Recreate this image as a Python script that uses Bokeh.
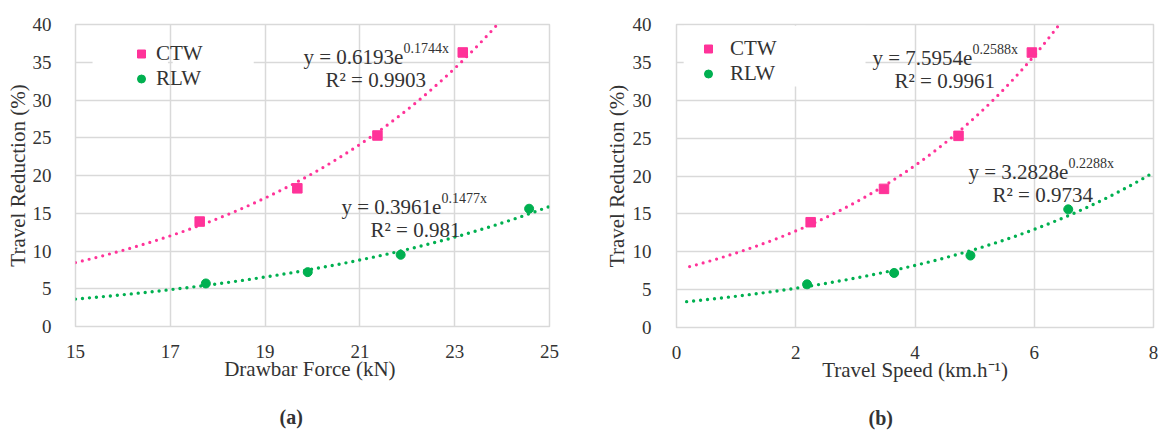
import numpy as np
from bokeh.plotting import figure
from bokeh.layouts import row
from bokeh.models import (FixedTicker, Label, Legend, LegendItem, BoxAnnotation, Range1d, Title)
from bokeh.embed import file_html
from bokeh.resources import INLINE

# ---------------- data ----------------
series_names = ["CTW", "RLW"]
ctw_reduction = [13.9, 18.3, 25.3, 36.3]
rlw_reduction = [5.7, 7.2, 9.5, 15.6]

ctw_drawbar = [17.62, 19.68, 21.37, 23.17]
rlw_drawbar = [17.75, 19.90, 21.86, 24.57]
ctw_speed = [2.25, 3.48, 4.73, 5.96]
rlw_speed = [2.19, 3.65, 4.93, 6.57]

# exponential trendlines y = a * exp(b * x), with R^2
ctw_drawbar_fit = (0.6193, 0.1744, 0.9903)
rlw_drawbar_fit = (0.3961, 0.1477, 0.981)
ctw_speed_fit = (7.5954, 0.2588, 0.9961)
rlw_speed_fit = (3.2828, 0.2288, 0.9734)

ctw_drawbar_span = (15, 25)
rlw_drawbar_span = (15, 25)
ctw_speed_span = (0.22, 8)
rlw_speed_span = (0.17, 8)

force_ticks = [15, 17, 19, 21, 23, 25]
speed_ticks = [0, 2, 4, 6, 8]
reduction_ticks = [0, 5, 10, 15, 20, 25, 30, 35, 40]

x_titles = ["Drawbar Force  (kN)", "Travel Speed (km.h\u207b\u00b9)"]
y_title = "Travel Reduction (%)"
panel_tags = ["(a)", "(b)"]

PINK = "#FF3399"
GREEN = "#00B050"
GRID = "#d9d9d9"
TXT = "#333333"
FONT = "Liberation Serif"


def trend(fit, span, ymax=40.0):
    a, b, _ = fit
    x_end = min(span[1], float(np.log(ymax / a) / b))
    xs = np.linspace(span[0], x_end, 300)
    return xs, a * np.exp(b * xs)


def lab(p, text, x, y, size="21px"):
    p.add_layout(Label(x=x, y=y, x_units="screen", y_units="screen", text=text,
                       text_font=FONT, text_font_size=size, text_color=TXT,
                       text_align="left", text_baseline="alphabetic"))


def make_panel(xr, xticks, ctw_x, rlw_x, ctw_fit, rlw_fit, ctw_span, rlw_span,
               fw, fh, bl, br, bt, bb, legend_xy, standoff, eq_pos, r2_dx,
               xtitle, ylab_standoff, ytitle_standoff, tag, tag_offset, white_boxes):
    p = figure(frame_width=fw, frame_height=fh, min_border_left=bl, min_border_right=br,
               min_border_top=bt, min_border_bottom=bb, x_range=Range1d(*xr),
               y_range=Range1d(0, 40), output_backend="svg", toolbar_location=None,
               background_fill_color="white", border_fill_color="white")
    p.xaxis.ticker = FixedTicker(ticks=xticks)
    p.yaxis.ticker = FixedTicker(ticks=reduction_ticks)
    for ax in (p.xaxis[0], p.yaxis[0]):
        ax.axis_line_color = None
        ax.major_tick_line_color = None
        ax.minor_tick_line_color = None
        ax.major_label_text_font = FONT
        ax.major_label_text_font_size = "19px"
        ax.major_label_text_color = TXT
        ax.axis_label_text_font = FONT
        ax.axis_label_text_font_size = "21px"
        ax.axis_label_text_font_style = "normal"
        ax.axis_label_text_color = TXT
    p.xaxis.axis_label = xtitle
    p.yaxis.axis_label = y_title
    p.xaxis.major_label_standoff = 12
    p.xaxis.axis_label_standoff = -4
    p.yaxis.major_label_standoff = ylab_standoff
    p.yaxis.axis_label_standoff = ytitle_standoff
    p.grid.grid_line_color = GRID
    p.grid.grid_line_width = 1.5
    p.outline_line_color = GRID
    p.outline_line_width = 1.5

    for (l, r, b, t) in white_boxes:
        p.add_layout(BoxAnnotation(left=l, right=r, bottom=b, top=t, fill_color="white",
                                   fill_alpha=1.0, line_color=None, level="annotation"))

    tx, ty = trend(ctw_fit, ctw_span)
    p.line(tx, ty, line_color=PINK, line_width=3.2, line_dash="0 7", line_cap="round")
    tx, ty = trend(rlw_fit, rlw_span)
    p.line(tx, ty, line_color=GREEN, line_width=3.4, line_dash="0 7", line_cap="round")

    r_ctw = p.scatter(ctw_x, ctw_reduction, marker="square", size=9.5, fill_color=PINK,
                      line_color=PINK)
    r_rlw = p.scatter(rlw_x, rlw_reduction, marker="circle", size=9, fill_color=GREEN,
                      line_color=GREEN)

    legend = Legend(items=[LegendItem(label=series_names[0], renderers=[r_ctw]),
                           LegendItem(label=series_names[1], renderers=[r_rlw])],
                    location=legend_xy, padding=0, margin=0, spacing=0,
                    glyph_width=20, glyph_height=25, label_height=25,
                    label_standoff=standoff, label_text_font=FONT,
                    label_text_font_size="21px", label_text_color=TXT,
                    background_fill_alpha=0, border_line_color=None)
    p.add_layout(legend)

    for fit, (mx, my), dx in zip((ctw_fit, rlw_fit), eq_pos, r2_dx):
        a, b, r2 = fit
        lab(p, f"y = {a}e", mx, my)
        lab(p, f"{b}x", mx + 100, my + 8, size="14px")
        lab(p, f"R\u00b2 = {r2}", mx + dx, my - 23)

    p.add_layout(Title(text=tag, align="left", offset=tag_offset, standoff=40,
                       text_font=FONT, text_font_size="20px", text_font_style="bold",
                       text_color=TXT), "below")
    return p


pa = make_panel((15, 25), force_ticks, ctw_drawbar, rlw_drawbar, ctw_drawbar_fit, rlw_drawbar_fit,
                ctw_drawbar_span, rlw_drawbar_span,
                fw=474, fh=302, bl=75, br=34, bt=24, bb=107,
                legend_xy=(56, 235), standoff=5,
                eq_pos=[(228, 270), (266, 120)], r2_dx=[22, 29],
                xtitle=x_titles[0], ylab_standoff=18, ytitle_standoff=0,
                tag=panel_tags[0], tag_offset=204,
                white_boxes=[(15.36, 16.95, 34.6, 35.4), (17.05, 18.76, 34.6, 35.4)])

pb = make_panel((0, 8), speed_ticks, ctw_speed, rlw_speed, ctw_speed_fit, rlw_speed_fit,
                ctw_speed_span, rlw_speed_span,
                fw=477, fh=303, bl=93, br=10, bt=23, bb=107,
                legend_xy=(22, 241), standoff=12,
                eq_pos=[(196, 270), (292, 156)], r2_dx=[22, 24],
                xtitle=x_titles[1], ylab_standoff=19, ytitle_standoff=1,
                tag=panel_tags[1], tag_offset=192,
                white_boxes=[(0.12, 3.17, 31.8, 39.85)])

layout = row(pa, pb, spacing=0)
open("out.html", "w").write(file_html(layout, INLINE))
